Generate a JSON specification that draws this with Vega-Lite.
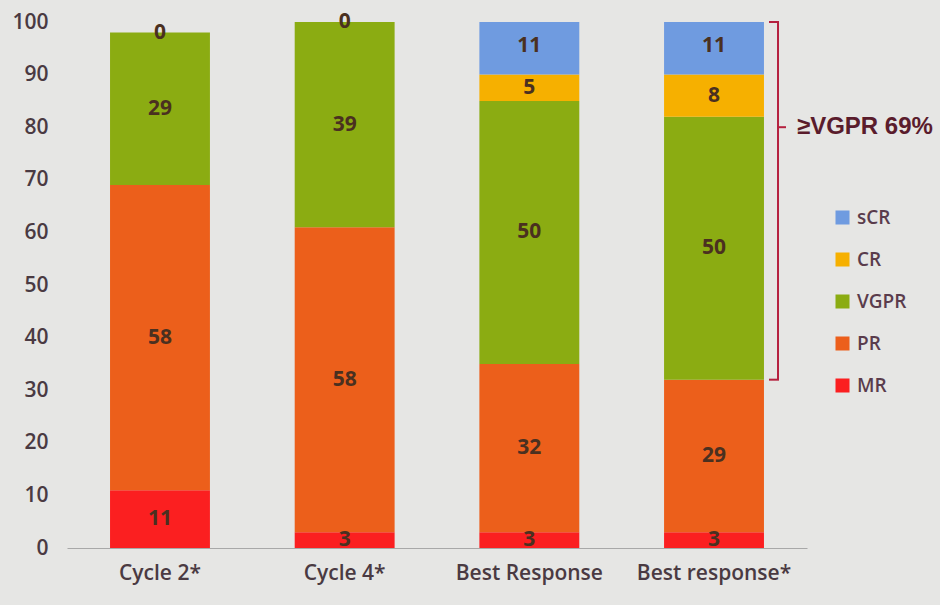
{
  "$schema": "https://vega.github.io/schema/vega-lite/v6.json",
  "width": 740,
  "height": 526,
  "autosize": {"type": "none"},
  "padding": {"left": 67, "top": 22, "right": 133, "bottom": 57},
  "background": "#e6e6e4",
  "config": {
    "view": {"stroke": null},
    "font": "Open Sans"
  },
  "datasets": {
    "response": [
      {"cat": "Cycle 2*", "status": "MR", "value": 11, "order": 1},
      {"cat": "Cycle 2*", "status": "PR", "value": 58, "order": 2},
      {"cat": "Cycle 2*", "status": "VGPR", "value": 29, "order": 3},
      {"cat": "Cycle 2*", "status": "CR", "value": 0, "order": 4},
      {"cat": "Cycle 4*", "status": "MR", "value": 3, "order": 1},
      {"cat": "Cycle 4*", "status": "PR", "value": 58, "order": 2},
      {"cat": "Cycle 4*", "status": "VGPR", "value": 39, "order": 3},
      {"cat": "Cycle 4*", "status": "CR", "value": 0, "order": 4},
      {"cat": "Best Response", "status": "MR", "value": 3, "order": 1},
      {"cat": "Best Response", "status": "PR", "value": 32, "order": 2},
      {"cat": "Best Response", "status": "VGPR", "value": 50, "order": 3},
      {"cat": "Best Response", "status": "CR", "value": 5, "order": 4},
      {"cat": "Best Response", "status": "sCR", "value": 11, "order": 5},
      {"cat": "Best response*", "status": "MR", "value": 3, "order": 1},
      {"cat": "Best response*", "status": "PR", "value": 29, "order": 2},
      {"cat": "Best response*", "status": "VGPR", "value": 50, "order": 3},
      {"cat": "Best response*", "status": "CR", "value": 8, "order": 4},
      {"cat": "Best response*", "status": "sCR", "value": 11, "order": 5}
    ],
    "bracket": [
      {"cat": "Best response*", "from": 32, "to": 100, "tick": 80, "label": "≥VGPR 69%"}
    ]
  },
  "layer": [
    {
      "data": {"name": "response"},
      "mark": {"type": "bar"},
      "encoding": {
        "x": {
          "field": "cat",
          "type": "nominal",
          "sort": ["Cycle 2*", "Cycle 4*", "Best Response", "Best response*"],
          "scale": {"paddingInner": 0.459, "paddingOuter": 0.233},
          "axis": {
            "title": null,
            "labelAngle": 0,
            "labelFontSize": 21,
            "labelFontWeight": 600,
            "labelColor": "#4a3a42",
            "labelPadding": 14,
            "ticks": false,
            "domainColor": "#a8a8a8",
            "domainWidth": 1
          }
        },
        "y": {
          "field": "value",
          "type": "quantitative",
          "stack": "zero",
          "scale": {"domain": [0, 100], "nice": false, "clamp": true},
          "axis": {
            "title": null,
            "values": [0, 10, 20, 30, 40, 50, 60, 70, 80, 90, 100],
            "grid": false,
            "domain": false,
            "ticks": false,
            "labelFontSize": 21,
            "labelFontWeight": 600,
            "labelColor": "#4a3a42",
            "labelPadding": 19
          }
        },
        "color": {
          "field": "status",
          "type": "nominal",
          "scale": {
            "domain": ["sCR", "CR", "VGPR", "PR", "MR"],
            "range": ["#6f9be0", "#f6b000", "#8bac12", "#ec5f1b", "#fb1f20"]
          },
          "legend": {
            "title": null,
            "orient": "none",
            "legendX": 766,
            "legendY": 186,
            "symbolType": "square",
            "symbolSize": 196,
            "symbolStrokeWidth": 0,
            "symbolOpacity": 1,
            "labelFontSize": 19,
            "labelFontWeight": 600,
            "labelColor": "#5a3c4c",
            "labelOffset": 5,
            "rowPadding": 22
          }
        },
        "order": {"field": "order", "type": "quantitative"}
      }
    },
    {
      "data": {"name": "response"},
      "mark": {
        "type": "text",
        "fontSize": 21,
        "fontWeight": 700,
        "color": "#4a3020",
        "baseline": "middle"
      },
      "encoding": {
        "x": {"field": "cat", "type": "nominal", "sort": ["Cycle 2*", "Cycle 4*", "Best Response", "Best response*"]},
        "y": {"field": "value", "type": "quantitative", "stack": "zero", "bandPosition": 0.5},
        "detail": {"field": "status"},
        "order": {"field": "order", "type": "quantitative"},
        "text": {"field": "value", "type": "quantitative"}
      }
    },
    {
      "data": {"name": "bracket"},
      "mark": {"type": "rule", "color": "#b5213f", "strokeWidth": 2, "xOffset": 64},
      "encoding": {
        "x": {"field": "cat", "type": "nominal", "sort": ["Cycle 2*", "Cycle 4*", "Best Response", "Best response*"]},
        "y": {"field": "from", "type": "quantitative"},
        "y2": {"field": "to"}
      }
    },
    {
      "data": {"name": "bracket"},
      "mark": {"type": "rule", "color": "#b5213f", "strokeWidth": 2, "xOffset": 55, "x2Offset": 65},
      "encoding": {
        "x": {"field": "cat", "type": "nominal", "sort": ["Cycle 2*", "Cycle 4*", "Best Response", "Best response*"]},
        "x2": {"field": "cat"},
        "y": {"field": "to", "type": "quantitative"}
      }
    },
    {
      "data": {"name": "bracket"},
      "mark": {"type": "rule", "color": "#b5213f", "strokeWidth": 2, "xOffset": 55, "x2Offset": 65},
      "encoding": {
        "x": {"field": "cat", "type": "nominal", "sort": ["Cycle 2*", "Cycle 4*", "Best Response", "Best response*"]},
        "x2": {"field": "cat"},
        "y": {"field": "from", "type": "quantitative"}
      }
    },
    {
      "data": {"name": "bracket"},
      "mark": {"type": "rule", "color": "#b5213f", "strokeWidth": 2, "xOffset": 63, "x2Offset": 72},
      "encoding": {
        "x": {"field": "cat", "type": "nominal", "sort": ["Cycle 2*", "Cycle 4*", "Best Response", "Best response*"]},
        "x2": {"field": "cat"},
        "y": {"field": "tick", "type": "quantitative"}
      }
    },
    {
      "data": {"name": "bracket"},
      "mark": {
        "type": "text",
        "font": "Liberation Sans",
        "fontSize": 24,
        "fontWeight": "bold",
        "color": "#5a1c2c",
        "align": "left",
        "baseline": "middle",
        "dx": 83
      },
      "encoding": {
        "x": {"field": "cat", "type": "nominal", "sort": ["Cycle 2*", "Cycle 4*", "Best Response", "Best response*"]},
        "y": {"field": "tick", "type": "quantitative"},
        "text": {"field": "label"}
      }
    }
  ]
}
